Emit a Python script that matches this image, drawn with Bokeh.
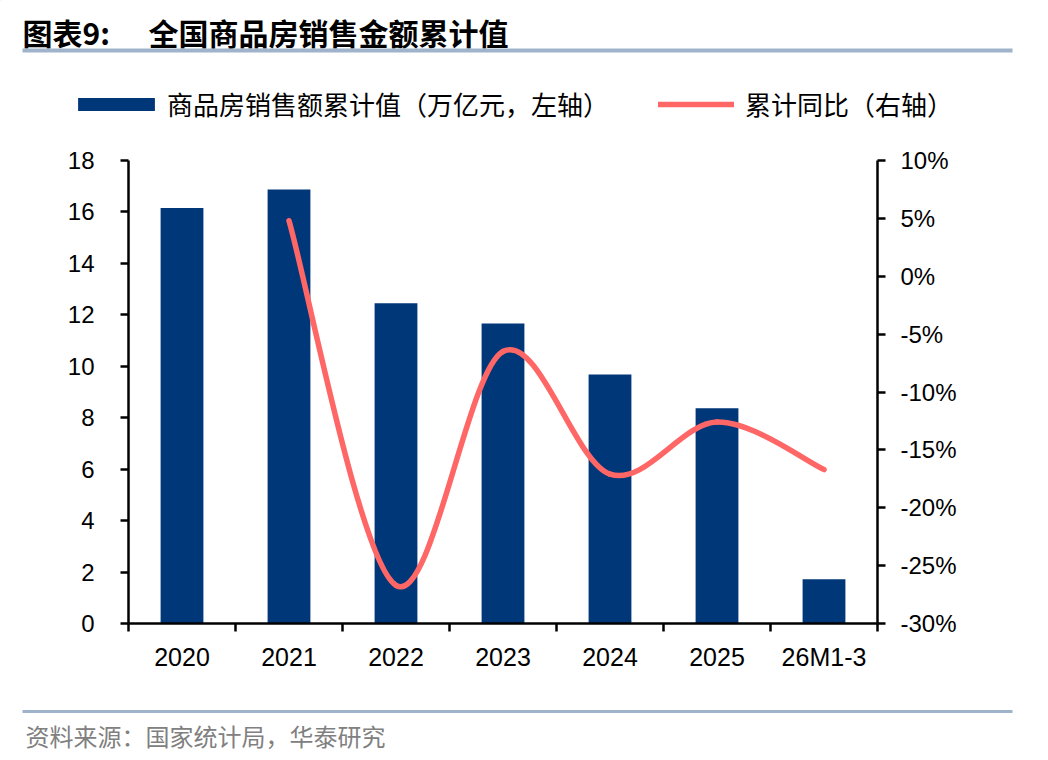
from bokeh.plotting import figure
from bokeh.layouts import column
from bokeh.models import (Range1d, LinearAxis, FixedTicker, PrintfTickFormatter,
                          Legend, LegendItem, ColumnDataSource)
from bokeh.core.properties import value
from bokeh.embed import file_html
from bokeh.resources import INLINE

# ---------------- data ----------------
categories = ["2020", "2021", "2022", "2023", "2024", "2025", "26M1-3"]
sales = [16.15, 16.87, 12.45, 11.66, 9.68, 8.37, 1.72]          # 万亿元, left axis
yoy_categories = ["2021", "2022", "2023", "2024", "2025", "26M1-3"]
yoy = [4.8, -26.7, -6.5, -17.1, -12.6, -16.7]                   # %, right axis
left_ticks = [0, 2, 4, 6, 8, 10, 12, 14, 16, 18]
right_ticks = [-30, -25, -20, -15, -10, -5, 0, 5, 10]

title_no = "图表9:"
title_txt = "全国商品房销售金额累计值"
bar_label = "商品房销售额累计值（万亿元，左轴）"
line_label = "累计同比（右轴）"
source_txt = "资料来源：国家统计局，华泰研究"

# ---------------- style ----------------
BAR = "#003778"
LINE = "#FF6666"
RULE = "#9FB3CB"
CJK = "Noto Sans CJK SC"
NUM = "Liberation Sans"
LW = 5.5

W = 1042
HEAD_H = 130
FOOT_H = 68


def blank(height, y0, y1):
    f = figure(width=W, height=height, x_range=Range1d(0, W), y_range=Range1d(y1, y0),
               x_axis_location=None, y_axis_location=None,
               output_backend="svg", toolbar_location=None, min_border=0)
    f.frame_align = False
    f.outline_line_color = None
    f.grid.visible = False
    f.background_fill_color = "white"
    f.border_fill_color = "white"
    return f


# ---------------- header: title, rule, legend ----------------
head = blank(HEAD_H, 0, HEAD_H)
head.text(x=[22], y=[31], text=[title_no], text_baseline="middle",
          text_font=value(CJK), text_font_style="bold", text_font_size="30px",
          text_color="black")
head.text(x=[148], y=[31], text=[title_txt], text_baseline="middle",
          text_font=value(CJK), text_font_style="bold", text_font_size="30px",
          text_color="black")
head.quad(left=[22], right=[1012], top=[48], bottom=[52], fill_color=RULE,
          line_color=None)

# legend keys styled exactly like the chart's renderers (their one point lies off-canvas)
bar_key = head.vbar(x=[-500], top=[-500], bottom=[-501], width=1, fill_color=BAR, line_color=None)
line_key = head.line(x=[-500, -499], y=[-500, -500], line_color=LINE, line_width=LW,
                     line_cap="round")
common = dict(orientation="horizontal", padding=0, margin=0, border_line_color=None,
              background_fill_alpha=0, label_text_font=CJK, label_text_font_size="26px",
              label_text_color="black", label_height=16)
leg1 = Legend(items=[LegendItem(label=bar_label, renderers=[bar_key])],
              location=(68, 8), glyph_width=96, glyph_height=16,
              label_standoff=3, **common)
leg2 = Legend(items=[LegendItem(label=line_label, renderers=[line_key])],
              location=(658, 8), glyph_width=76, glyph_height=16,
              label_standoff=11, **common)
head.add_layout(leg1)
head.add_layout(leg2)

# ---------------- main chart ----------------
p = figure(frame_width=749, frame_height=463,
           min_border_left=128, min_border_right=165,
           min_border_top=30, min_border_bottom=67,
           x_range=Range1d(-0.5, len(categories) - 0.5),
           y_range=Range1d(left_ticks[0], left_ticks[-1]),
           output_backend="svg", toolbar_location=None)
p.frame_align = False
p.outline_line_color = None
p.xgrid.visible = False
p.ygrid.visible = False
p.background_fill_color = "white"
p.border_fill_color = "white"
p.extra_y_ranges = {"right": Range1d(right_ticks[0], right_ticks[-1])}

idx = list(range(len(categories)))
bsrc = ColumnDataSource(dict(x=idx, top=sales, cat=categories))
p.vbar(x="x", top="top", width=0.4, source=bsrc, fill_color=BAR, line_color=None)

# smoothed line: Bezier segments through the data points
xl = [categories.index(c) for c in yoy_categories]
yl = yoy
n = len(xl)
seg = dict(x0=[], y0=[], x1=[], y1=[], cx0=[], cy0=[], cx1=[], cy1=[])
for i in range(n - 1):
    pm = max(i - 1, 0)
    pp = min(i + 2, n - 1)
    seg["x0"].append(xl[i]); seg["y0"].append(yl[i])
    seg["x1"].append(xl[i + 1]); seg["y1"].append(yl[i + 1])
    seg["cx0"].append(xl[i] + (xl[i + 1] - xl[pm]) / 6)
    seg["cy0"].append(yl[i] + (yl[i + 1] - yl[pm]) / 6)
    seg["cx1"].append(xl[i + 1] - (xl[pp] - xl[i]) / 6)
    seg["cy1"].append(yl[i + 1] - (yl[pp] - yl[i]) / 6)
p.bezier(source=ColumnDataSource(seg), x0="x0", y0="y0", x1="x1", y1="y1",
         cx0="cx0", cy0="cy0", cx1="cx1", cy1="cy1",
         y_range_name="right", line_color=LINE, line_width=LW, line_cap="round")

# x axis: labels at category centres, tick marks between categories
xa = p.xaxis[0]
xa.ticker = FixedTicker(ticks=idx, minor_ticks=[i - 0.5 for i in range(len(categories) + 1)])
xa.major_label_overrides = {i: c for i, c in zip(idx, categories)}
xa.major_tick_out = 0
xa.major_tick_in = 0
xa.minor_tick_out = 8
xa.minor_tick_in = 0
xa.minor_tick_line_width = 2.5
xa.minor_tick_line_color = "black"
xa.axis_line_width = 2.5
xa.axis_line_color = "black"
xa.major_label_text_font = NUM
xa.major_label_text_font_size = "25px"
xa.major_label_text_color = "black"
xa.major_label_standoff = 11

# left axis
ya = p.yaxis[0]
ya.ticker = FixedTicker(ticks=left_ticks)
ya.minor_tick_out = 0
ya.minor_tick_in = 0
ya.major_tick_out = 8
ya.major_tick_in = 0
ya.major_tick_line_width = 2.5
ya.axis_line_width = 2.5
ya.major_label_text_font = NUM
ya.major_label_text_font_size = "24px"
ya.major_label_text_color = "black"
ya.major_label_standoff = 26

# right axis
ra = LinearAxis(y_range_name="right", ticker=FixedTicker(ticks=right_ticks),
                formatter=PrintfTickFormatter(format="%d%%"))
ra.minor_tick_out = 0
ra.minor_tick_in = 0
ra.major_tick_out = 8
ra.major_tick_in = 0
ra.major_tick_line_width = 2.5
ra.axis_line_width = 2.5
ra.major_label_text_font = NUM
ra.major_label_text_font_size = "24px"
ra.major_label_text_color = "black"
ra.major_label_standoff = 15
p.add_layout(ra, "right")

# ---------------- footer: rule and source ----------------
foot = blank(FOOT_H, 690, 690 + FOOT_H)
foot.quad(left=[22], right=[1012], top=[709.5], bottom=[712.5], fill_color=RULE,
          line_color=None)
foot.text(x=[25], y=[735], text=[source_txt], text_baseline="middle",
          text_font=value(CJK), text_font_size="24px", text_color="#808080")

layout = column(head, p, foot, spacing=0)
open("out.html", "w").write(file_html(layout, INLINE))
